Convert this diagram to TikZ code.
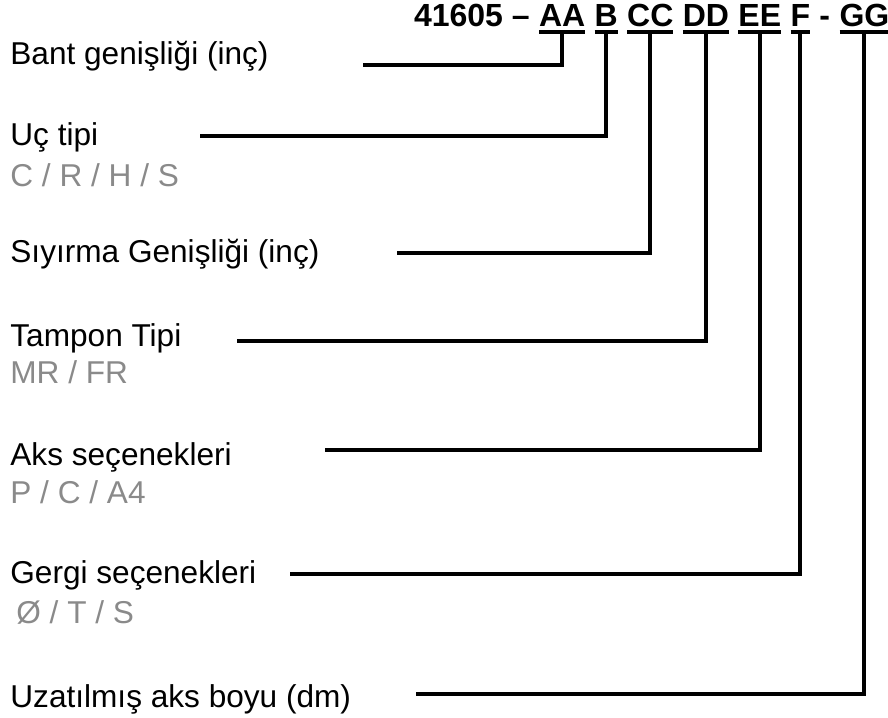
\documentclass[tikz,border=0pt]{standalone}
\usepackage{fontspec}
\setmainfont{Liberation Sans}
\usepackage{xcolor}
\usetikzlibrary{positioning}
\definecolor{optiongray}{RGB}{138,138,138}
\tikzstyle{codepart} = [inner sep=0pt, outer sep=0pt, text height=11.5pt, text depth=0pt, font=\fontsize{16}{19}\selectfont\bfseries]
\tikzstyle{caption} = [anchor=base west, inner sep=0pt, font=\fontsize{15.8}{19}\selectfont]
\tikzstyle{optiontext} = [caption, text=optiongray]
\tikzstyle{uline} = [line width=1.7pt]
\tikzstyle{leader} = [line width=2pt]

\begin{document}
\begin{tikzpicture}[x=0.5pt, y=-0.5pt, node distance=4.7pt]
    \useasboundingbox (0,0) rectangle (888,717);

    % Kod parcalari
    \node (prefix) [codepart, anchor=south west] at (414,27) {41605 –};
    \node (aa) [codepart, right=of prefix] {AA};
    \node (b) [codepart, right=of aa] {B};
    \node (cc) [codepart, right=of b] {CC};
    \node (dd) [codepart, right=of cc] {DD};
    \node (ee) [codepart, right=of dd] {EE};
    \node (f) [codepart, right=of ee] {F};
    \node (dash) [codepart, right=of f] {-};
    \node (gg) [codepart, right=of dash] {GG};

    % Alt cizgiler
    \foreach \c in {aa,b,cc,dd,ee,f,gg}
        \draw [uline] ([yshift=-2.5pt]\c.south west) -- ([yshift=-2.5pt]\c.south east);

    % Etiketler
    \node (bant) [caption] at (10,65) {Bant genişliği (inç)};
    \node (uc) [caption] at (10,145) {Uç tipi};
    \node (ucopt) [optiontext] at (10,186) {C / R / H / S};
    \node (siyirma) [caption] at (10,262) {Sıyırma Genişliği (inç)};
    \node (tampon) [caption] at (10,346) {Tampon Tipi};
    \node (tamponopt) [optiontext] at (10,383) {MR / FR};
    \node (aks) [caption] at (10,465) {Aks seçenekleri};
    \node (aksopt) [optiontext] at (10,503) {P / C / A4};
    \node (gergi) [caption] at (10,583) {Gergi seçenekleri};
    \node (gergiopt) [optiontext] at (16,623) {Ø / T / S};
    \node (uzatilmis) [caption] at (10,707) {Uzatılmış aks boyu (dm)};

    % Cizgi uclari
    \coordinate (bantend) at (363,65);
    \coordinate (ucend) at (200,136);
    \coordinate (siyirmaend) at (397,253);
    \coordinate (tamponend) at (237,341);
    \coordinate (aksend) at (325,450);
    \coordinate (gergiend) at (290,574);
    \coordinate (uzatilmisend) at (416,694);

    % Baglantilar
    \draw [leader] ([yshift=-2.5pt]aa.south) |- (bantend);
    \draw [leader] ([yshift=-2.5pt]b.south) |- (ucend);
    \draw [leader] ([yshift=-2.5pt]cc.south) |- (siyirmaend);
    \draw [leader] ([yshift=-2.5pt]dd.south) |- (tamponend);
    \draw [leader] ([yshift=-2.5pt]ee.south) |- (aksend);
    \draw [leader] ([yshift=-2.5pt]f.south) |- (gergiend);
    \draw [leader] ([yshift=-2.5pt]gg.south) |- (uzatilmisend);

\end{tikzpicture}
\end{document}
